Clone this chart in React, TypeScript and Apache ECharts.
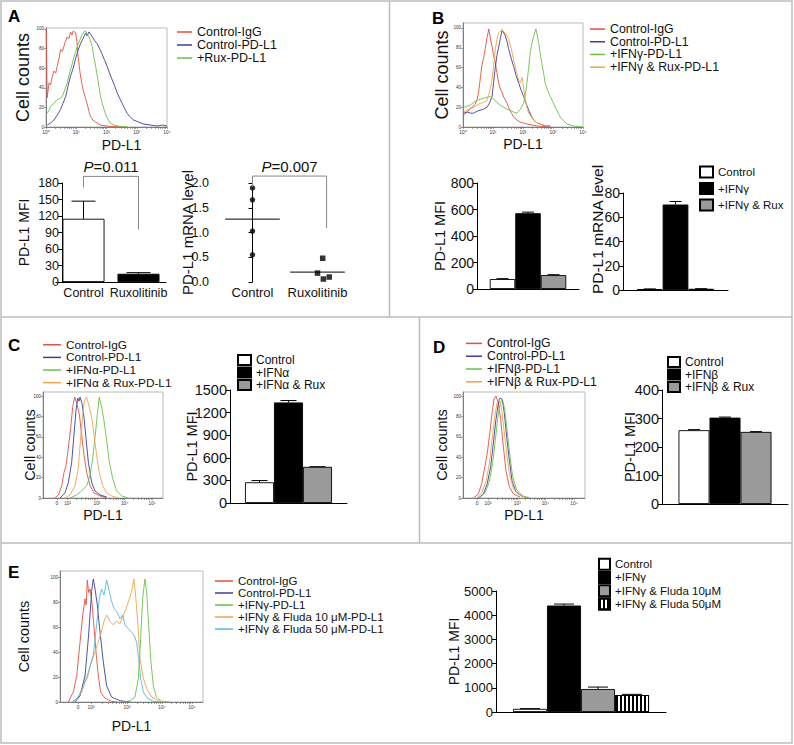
import React, { useEffect, useRef } from "react";
import * as echarts from "echarts";

const FONT = '"Liberation Sans", Arial, Helvetica, sans-serif';
const RED = "#e4503c";
const BLUE = "#3c3f96";
const GREEN = "#6bbf4b";
const ORANGE = "#f2a14e";
const CYAN = "#57b9d9";
const BORDER = "#bdbdbd";

// ---------- Panel A ----------
const A_HIST_IGG = [[0.01,100],[0.04,30],[0.10,45],[0.15,43],[0.21,52],[0.26,57],[0.32,55],[0.37,62],[0.43,70],[0.48,79],[0.54,77],[0.59,82],[0.65,88],[0.70,92],[0.76,90],[0.81,97],[0.86,94],[0.90,98],[0.98,96],[1.02,88],[1.05,75],[1.10,62],[1.14,52],[1.20,42],[1.25,35],[1.30,30],[1.36,24],[1.42,16],[1.47,11],[1.55,7],[1.64,5],[1.80,2],[2.13,0.5],[2.68,0]];
const A_HIST_PDL1 = [[0.04,2],[0.15,4],[0.26,7],[0.37,12],[0.48,18],[0.56,24],[0.65,31],[0.73,42],[0.81,52],[0.90,60],[0.98,70],[1.06,78],[1.14,85],[1.22,90],[1.31,96],[1.36,93],[1.42,97],[1.47,95],[1.53,92],[1.61,88],[1.69,85],[1.77,80],[1.86,74],[1.94,68],[2.02,62],[2.10,55],[2.19,48],[2.27,42],[2.35,35],[2.44,29],[2.52,24],[2.60,19],[2.68,14],[2.79,10],[2.90,7],[3.06,5],[3.23,3],[3.45,2],[3.67,1],[3.85,2],[4.0,1]];
const A_HIST_RUX = [[0.04,14],[0.10,17],[0.15,21],[0.26,24],[0.37,28],[0.45,29],[0.54,31],[0.62,38],[0.70,45],[0.78,55],[0.87,65],[0.95,74],[1.03,82],[1.11,88],[1.19,94],[1.25,97],[1.31,98],[1.36,95],[1.42,92],[1.47,88],[1.53,82],[1.58,72],[1.64,62],[1.70,51],[1.75,41],[1.80,32],[1.86,24],[1.92,18],[1.97,13],[2.05,8],[2.13,4],[2.25,2],[2.35,1],[2.68,0]];

const A_BAR_CATS = ["Control", "Ruxolitinib"];
const A_MFI = [115, 15];
const A_MFI_ERR = [147, 17];
const A_MRNA_CONTROL = [1.9, 1.66, 1.03, 0.55];
const A_MRNA_RUX = [0.48, 0.18, 0.06, 0.1];
const A_MRNA_RUX_X = [1.08, 1.0, 1.09, 1.18];
const A_MRNA_MEAN = [1.27, 0.2];
const A_P_MFI = "=0.011";
const A_P_MRNA = "=0.007";

// ---------- Panel B ----------
const B_HIST_IGG = [[0.02,12],[0.12,15],[0.24,18],[0.33,21],[0.41,23],[0.47,28],[0.52,35],[0.58,50],[0.63,62],[0.69,70],[0.74,79],[0.80,90],[0.86,99],[0.91,90],[0.97,81],[1.02,72],[1.08,64],[1.13,55],[1.19,44],[1.25,38],[1.30,35],[1.36,30],[1.41,27],[1.47,24],[1.52,20],[1.60,15],[1.69,10],[1.80,7],[1.91,5],[2.02,4],[2.13,3],[2.30,2],[2.47,1],[2.91,0]];
const B_HIST_PDL1 = [[0.02,14],[0.15,15],[0.25,14],[0.36,14],[0.47,16],[0.58,17],[0.69,18],[0.80,20],[0.88,24],[0.97,31],[1.02,45],[1.08,61],[1.13,72],[1.19,81],[1.25,90],[1.30,97],[1.36,95],[1.41,92],[1.47,86],[1.52,79],[1.60,70],[1.69,61],[1.77,52],[1.86,44],[1.94,37],[2.02,31],[2.10,24],[2.19,17],[2.28,11],[2.36,7],[2.47,4],[2.58,3],[2.75,1],[2.91,1]];
const B_HIST_IFN = [[0.02,20],[0.13,21],[0.24,22],[0.36,25],[0.47,27],[0.58,28],[0.69,29],[0.80,30],[0.91,31],[1.02,28],[1.13,25],[1.24,22],[1.36,20],[1.47,18],[1.58,17],[1.69,15],[1.80,14],[1.91,18],[2.02,24],[2.08,33],[2.13,44],[2.19,60],[2.24,75],[2.30,85],[2.36,92],[2.43,99],[2.47,93],[2.52,85],[2.57,75],[2.63,64],[2.69,54],[2.74,44],[2.82,37],[2.91,31],[3.00,25],[3.08,20],[3.16,15],[3.24,10],[3.36,6],[3.47,3],[3.58,2],[3.69,1],[4.0,0]];
const B_HIST_RUX = [[0.02,15],[0.13,17],[0.24,19],[0.36,20],[0.47,22],[0.58,24],[0.69,25],[0.80,27],[0.88,35],[0.97,48],[1.02,62],[1.08,79],[1.13,88],[1.19,95],[1.25,97],[1.30,99],[1.36,96],[1.41,95],[1.47,92],[1.52,89],[1.60,80],[1.69,68],[1.77,57],[1.86,47],[1.91,45],[1.97,50],[2.02,40],[2.08,27],[2.13,20],[2.19,14],[2.28,10],[2.36,7],[2.47,4],[2.58,3],[2.75,1],[2.91,1]];

const B_GROUPS = ["Control", "+IFNγ", "+IFNγ & Rux"];
const B_MFI = [75, 572, 105];
const B_MFI_ERR = [78, 580, 108];
const B_MRNA = [0.8, 70.5, 1.0];
const B_MRNA_ERR = [0.9, 73, 1.1];

// ---------- Panel C ----------
const C_HIST_IGG = [[10.0,0],[12.8,3],[15.6,12],[17.5,25],[19.2,32],[21.1,49],[23.1,69],[24.7,89],[26.4,99],[28.1,93],[30.3,82],[32.2,62],[34.2,42],[36.4,25],[39.2,12],[42.5,5],[47.5,2],[53.1,0]];
const C_HIST_PDL1 = [[14.2,0],[18.3,5],[21.1,15],[23.9,35],[25.8,62],[27.5,86],[28.9,98],[30.0,95],[30.8,99],[32.5,93],[34.2,79],[35.8,59],[37.8,35],[40.6,15],[43.3,7],[47.5,3],[53.1,1]];
const C_HIST_IFN = [[22.5,0],[28.1,3],[32.2,7],[36.4,12],[39.2,22],[41.4,39],[43.3,59],[45.3,82],[46.9,99],[48.9,89],[50.8,76],[53.1,56],[55.3,35],[58.1,19],[61.4,7],[65.6,2],[71.1,0]];
const C_HIST_RUX = [[18.3,0],[22.5,3],[26.7,12],[29.4,29],[31.4,59],[33.1,82],[34.7,96],[36.4,99],[38.6,89],[40.6,79],[42.5,62],[44.7,42],[46.9,25],[49.7,12],[53.1,5],[57.2,2],[62.8,0]];

const C_GROUPS = ["Control", "+IFNα", "+IFNα & Rux"];
const C_MFI = [275, 1335, 480];
const C_MFI_ERR = [298, 1360, 482];

// ---------- Panel D ----------
const D_HIST_IGG = [[8.5,0],[12.6,4],[15.3,14],[18.0,31],[19.9,44],[21.6,60],[23.5,80],[25.4,97],[27.0,100],[29.0,93],[30.9,77],[33.1,50],[35.2,27],[38.0,11],[41.3,4],[46.7,1]];
const D_HIST_PDL1 = [[12.6,0],[16.7,4],[19.9,14],[22.7,31],[24.9,54],[27.0,77],[29.0,93],[30.3,98],[32.2,97],[33.9,83],[35.8,60],[38.0,37],[40.2,17],[43.4,6],[48.1,2],[53.6,0]];
const D_HIST_IFN = [[13.4,0],[18.0,5],[21.6,16],[24.3,34],[26.5,57],[28.7,80],[30.6,93],[32.2,97],[34.2,87],[36.1,67],[38.5,41],[40.7,21],[44.0,8],[48.9,2],[54.9,0]];
const D_HIST_RUX = [[11.2,0],[15.3,5],[18.9,16],[21.6,34],[23.8,57],[26.0,80],[27.9,93],[29.5,97],[31.4,90],[33.3,70],[35.8,44],[38.0,24],[41.3,9],[46.2,3],[52.2,0]];

const D_GROUPS = ["Control", "+IFNβ", "+IFNβ & Rux"];
const D_MFI = [259, 303, 253];
const D_MFI_ERR = [261, 305, 254];

// ---------- Panel E ----------
const E_HIST_IGG = [[5.8,0],[9.3,8],[11.7,21],[14.0,48],[15.9,70],[17.5,83],[18.3,78],[19.1,98],[20.0,88],[21.0,91],[22.1,83],[23.3,67],[25.2,40],[26.8,21],[28.4,8],[31.5,3],[36.1,0.5],[40,0]];
const E_HIST_PDL1 = [[10.5,0],[14.0,5],[17.5,21],[19.8,51],[21.0,70],[22.1,89],[23.3,99],[24.5,91],[26.1,78],[28.0,56],[30.3,32],[32.6,13],[36.1,4],[42.0,1],[49.0,0]];
const E_HIST_IFN = [[44.3,0],[49.0,1],[52.4,4],[54.8,19],[56.4,51],[57.8,83],[59.4,99],[60.6,89],[62.0,62],[63.6,32],[65.3,13],[67.4,4],[71.1,0.5],[76.9,0]];
const E_HIST_F10 = [[8.2,0],[11.7,3],[15.2,8],[17.5,16],[19.1,19],[21.4,30],[23.8,38],[26.1,46],[28.4,54],[30.8,65],[32.6,70],[35.0,65],[37.3,62],[39.6,65],[42.0,63],[44.3,70],[46.2,75],[48.5,83],[50.1,89],[51.7,99],[53.1,83],[54.5,62],[55.9,35],[58.3,19],[60.6,11],[64.1,4],[68.8,1],[73.4,0]];
const E_HIST_F50 = [[9.3,0],[12.8,4],[16.3,13],[19.8,24],[23.3,38],[25.6,62],[27.5,83],[29.1,91],[30.8,86],[32.6,98],[34.5,89],[36.1,81],[37.8,75],[39.6,73],[42.0,67],[43.8,70],[45.5,62],[47.8,59],[50.1,56],[51.7,54],[53.6,48],[55.0,35],[56.4,19],[58.3,8],[61.1,3],[65.3,0.5],[69.9,0]];

const E_GROUPS = ["Control", "+IFNγ", "+IFNγ & Fluda 10μM", "+IFNγ & Fluda 50μM"];
const E_MFI = [130, 4400, 950, 700];
const E_MFI_ERR = [140, 4460, 1030, 730];

// ---------- Axis ticks ----------
const LOG_TICKS = [0, 1, 2, 3, 4];
const LOG_LABELS = ["10⁰", "10¹", "10²", "10³", "10⁴"];
const BIEX_LABELS = ["0", "10²", "10³", "10⁴", "10⁵"];
const C_TICKS = [11.5, 20.5, 45, 68, 91];
const D_TICKS = [11.5, 20.5, 44.5, 67.5, 91];
const E_TICKS = [12.6, 21.7, 46.9, 71.3, 92.3];
const COUNT_TICKS = [0, 20, 40, 60, 80, 100];

const MINOR_STEPS = [2, 3, 4, 5, 6, 7, 8, 9];
function logMinors(ticks: number[]) {
  const out: number[] = [];
  for (let i = 0; i < ticks.length - 1; i++) {
    const a = ticks[i], b = ticks[i + 1];
    MINOR_STEPS.forEach((m) => out.push(a + Math.log10(m) * (b - a)));
  }
  return out;
}

const BAR_STYLES: any[] = [
  { color: "#ffffff", borderColor: "#000", borderWidth: 0.9 },
  { color: "#000000", borderColor: "#000", borderWidth: 0.9 },
  { color: "#9a9a9a", borderColor: "#000", borderWidth: 0.9 },
  {
    color: "#ffffff", borderColor: "#000", borderWidth: 0.9,
    decal: { symbol: "rect", symbolSize: 1, dashArrayX: [1.6, 1.6], dashArrayY: [5, 0], color: "#000" },
  },
];

function nearestLabel(v: number, ticks: number[], labels: string[]) {
  for (let i = 0; i < ticks.length; i++) if (Math.abs(ticks[i] - v) < 1e-6) return labels[i];
  return "";
}

function histX(gi: number, min: number, max: number, ticks: number[], labels: string[], minors: number[], nameGap: number, namePad: number[] = [0, 0, 0, 0]) {
  return {
    type: "value", gridIndex: gi, min, max,
    name: "PD-L1", nameLocation: "middle", nameGap, nameMoveOverlap: false,
    nameTextStyle: { fontSize: 14, color: "#111", fontFamily: FONT, padding: namePad },
    axisLine: { show: true, lineStyle: { color: "#666", width: 0.8 } },
    axisTick: { show: true, customValues: ticks.concat(minors), length: 2, lineStyle: { color: "#666", width: 0.6 } },
    axisLabel: { show: true, customValues: ticks, formatter: (v: number) => nearestLabel(v, ticks, labels), fontSize: 4.8, color: "#333", margin: 3, fontFamily: FONT },
    splitLine: { show: false },
  };
}

function histY(gi: number, max: number, nameGap: number, nameSize: number) {
  return {
    type: "value", gridIndex: gi, min: 0, max,
    name: "Cell counts", nameLocation: "middle", nameGap, nameMoveOverlap: false,
    nameTextStyle: { fontSize: nameSize, color: "#111", fontFamily: FONT },
    axisLine: { show: true, lineStyle: { color: "#666", width: 0.8 } },
    axisTick: { show: true, customValues: COUNT_TICKS, length: 2, lineStyle: { color: "#666", width: 0.6 } },
    axisLabel: { show: true, customValues: COUNT_TICKS, fontSize: 4.5, color: "#333", margin: 2, fontFamily: FONT },
    splitLine: { show: false },
  };
}

const plainNumber = (v: number) => String(v);

function barY(gi: number, max: number, interval: number, name: string, nameGap: number, fs: number, nfs: number, offset = 0, fmt: (v: number) => string = plainNumber, namePad: number[] = [0, 0, 0, 0]) {
  return {
    type: "value", gridIndex: gi, min: 0, max, interval, offset,
    name, nameLocation: "middle", nameGap, nameMoveOverlap: false,
    nameTextStyle: { fontSize: nfs, color: "#111", fontFamily: FONT, padding: namePad },
    axisLine: { show: true, lineStyle: { color: "#000", width: 1 } },
    axisTick: { show: true, length: 4, lineStyle: { color: "#000", width: 1 } },
    axisLabel: { show: true, fontSize: fs, color: "#111", margin: 3, fontFamily: FONT, formatter: fmt },
    splitLine: { show: false },
  };
}

function groupX(gi: number) {
  return {
    type: "category", gridIndex: gi, data: [""],
    axisLine: { show: true, lineStyle: { color: "#000", width: 1 } },
    axisTick: { show: false }, axisLabel: { show: false }, splitLine: { show: false },
  };
}

function histSeries(name: string, color: string, data: number[][], gi: number) {
  return {
    type: "line", name, xAxisIndex: gi, yAxisIndex: gi, data,
    showSymbol: false, symbol: "none", color,
    itemStyle: { color }, lineStyle: { color, width: 0.9 }, silent: true, z: 3,
  };
}

function groupBars(names: string[], values: number[], gi: number, bw: number) {
  return names.map((name, i) => ({
    type: "bar", name, xAxisIndex: gi, yAxisIndex: gi, data: [values[i]],
    barWidth: bw, barGap: "0%", itemStyle: BAR_STYLES[i], silent: true,
  }));
}

function groupErr(values: number[], uppers: number[], gi: number, bw: number, cap: number) {
  const n = values.length;
  return {
    type: "custom", name: "err" + gi, xAxisIndex: gi, yAxisIndex: gi, silent: true, z: 5, clip: false,
    data: values.map((v, i) => [0, v, uppers[i], i]),
    renderItem: (params: any, api: any) => {
      const slot = api.value(3);
      const c = api.coord([0, api.value(1)]);
      const u = api.coord([0, api.value(2)]);
      const x = c[0] + (slot - (n - 1) / 2) * bw;
      return {
        type: "group",
        children: [
          { type: "line", shape: { x1: x, y1: c[1], x2: x, y2: u[1] }, style: { stroke: "#000", lineWidth: 1 } },
          { type: "line", shape: { x1: x - cap, y1: u[1], x2: x + cap, y2: u[1] }, style: { stroke: "#000", lineWidth: 1 } },
        ],
      };
    },
  };
}

function bracket(gi: number, x0: number, x1: number, yTop: number, yL: number, yR: number, ptext: string) {
  return {
    type: "custom", name: "bracket" + gi, xAxisIndex: gi, yAxisIndex: gi, silent: true, clip: false, z: 6,
    encode: { x: [0, 1], y: [2, 3, 4] },
    data: [[x0, x1, yTop, yL, yR]],
    renderItem: (params: any, api: any) => {
      const a = api.value(0), b = api.value(1);
      const pL = api.coord([a, api.value(3)]);
      const t0 = api.coord([a, api.value(2)]);
      const t1 = api.coord([b, api.value(2)]);
      const pR = api.coord([b, api.value(4)]);
      return {
        type: "group",
        children: [
          { type: "polyline", shape: { points: [pL, t0, t1, pR] }, style: { stroke: "#888", lineWidth: 1, fill: null } },
          {
            type: "text", x: (t0[0] + t1[0]) / 2, y: t0[1] - 2,
            style: {
              text: "{i|P}{n|" + ptext + "}", align: "center", verticalAlign: "bottom",
              rich: {
                i: { fontStyle: "italic", fontSize: 15, fontFamily: FONT, fill: "#111" },
                n: { fontSize: 15, fontFamily: FONT, fill: "#111" },
              },
            },
          },
        ],
      };
    },
  };
}

function histLegend(names: string[], left: number, top: number, iw: number, lh: number, fs: number) {
  return {
    orient: "vertical", left, top, padding: 0, itemGap: 0, itemWidth: iw, itemHeight: 1.5,
    icon: "rect", selectedMode: false, data: names,
    textStyle: { fontSize: fs, lineHeight: lh, color: "#111", fontFamily: FONT },
  };
}

function barLegend(names: string[], left: number, top: number, iw: number, ih: number, lh: number, fs: number) {
  return {
    orient: "vertical", left, top, padding: 0, itemGap: 0, itemWidth: iw, itemHeight: ih,
    icon: "rect", selectedMode: false, data: names,
    textStyle: { fontSize: fs, lineHeight: lh, color: "#111", fontFamily: FONT },
  };
}

function letter(t: string, x: number, y: number) {
  return {
    type: "text", x, y, silent: true,
    style: { text: t, fontSize: 17, fontWeight: "bold", fontFamily: FONT, fill: "#000", verticalAlign: "middle", align: "left" },
  };
}

function hline(x1: number, x2: number, y: number) {
  return { type: "line", silent: true, shape: { x1, y1: y, x2, y2: y }, style: { stroke: BORDER, lineWidth: 1.5 } };
}
function vline(x: number, y1: number, y2: number) {
  return { type: "line", silent: true, shape: { x1: x, y1, x2: x, y2 }, style: { stroke: BORDER, lineWidth: 1.5 } };
}

function buildOption() {
  const histGrid = (left: number, top: number, width: number, height: number) => ({
    left, top, width, height, show: true, borderColor: "#aaa", borderWidth: 0.8, containLabel: false, outerBoundsMode: "none",
  });
  const plainGrid = (left: number, top: number, width: number, height: number) => ({
    left, top, width, height, show: false, containLabel: false, outerBoundsMode: "none",
  });

  const grid = [
    histGrid(46, 28, 121, 99), // 0 A hist
    plainGrid(56, 183, 110, 99), // 1 A bar
    plainGrid(220, 183, 130, 99), // 2 A scatter
    histGrid(463, 23, 120, 104), // 3 B hist
    plainGrid(477, 183, 102, 106), // 4 B MFI
    plainGrid(623, 193, 105, 97), // 5 B mRNA
    histGrid(43, 392, 120, 106), // 6 C hist
    plainGrid(230, 390, 117, 113), // 7 C bar
    histGrid(463, 392, 122, 106), // 8 D hist
    plainGrid(662, 390, 126, 114), // 9 D bar
    histGrid(60, 571, 143, 131), // 10 E hist
    plainGrid(496, 591, 170, 121), // 11 E bar
  ];

  const xAxis: any[] = [
    histX(0, 0, 4, LOG_TICKS, LOG_LABELS, logMinors(LOG_TICKS), 11, [0, 0, 0, 30]),
    {
      type: "category", gridIndex: 1, data: A_BAR_CATS,
      axisLine: { show: true, lineStyle: { color: "#000", width: 1 } },
      axisTick: { show: false },
      axisLabel: { interval: 0, hideOverlap: false, fontSize: 12.5, color: "#111", margin: 4, fontFamily: FONT },
    },
    {
      type: "value", gridIndex: 2, min: -0.5, max: 1.5,
      axisLine: { show: false }, axisTick: { show: false }, splitLine: { show: false },
      axisLabel: { customValues: [0, 1], formatter: (v: number) => A_BAR_CATS[Math.round(v)] ?? "", fontSize: 13, color: "#111", margin: 4, fontFamily: FONT },
    },
    histX(3, 0, 4, LOG_TICKS, LOG_LABELS, logMinors(LOG_TICKS), 10),
    groupX(4),
    groupX(5),
    histX(6, 0, 100, C_TICKS, BIEX_LABELS, logMinors(C_TICKS.slice(1)), 10),
    groupX(7),
    histX(8, 0, 100, D_TICKS, BIEX_LABELS, logMinors(D_TICKS.slice(1)), 10),
    groupX(9),
    histX(10, 0, 100, E_TICKS, BIEX_LABELS, logMinors(E_TICKS.slice(1)), 17),
    groupX(11),
  ];

  const yAxis: any[] = [
    histY(0, 101, 14, 18),
    barY(1, 180, 30, "PD-L1 MFI", 31, 12.5, 14, -6),
    barY(2, 2, 0.5, "PD-L1 mRNA level", 17, 12.5, 15, 8, (v: number) => v.toFixed(1)),
    histY(3, 105, 12, 18),
    barY(4, 800, 200, "PD-L1 MFI", 30, 14, 14.5),
    barY(5, 80, 20, "PD-L1 mRNA level", 17.5, 14, 15.5, 0, plainNumber, [0, 0, 0, 24]),
    histY(6, 104, 5.75, 14.5),
    barY(7, 1500, 300, "PD-L1 MFI", 31, 14.5, 14.5),
    histY(8, 104, 13.25, 14.5),
    barY(9, 400, 100, "PD-L1 MFI", 25, 14.5, 14.5),
    histY(10, 105.4, 28.75, 14.5),
    barY(11, 5000, 1000, "PD-L1 MFI", 35, 13, 14),
  ];

  const series: any[] = [
    // A
    histSeries("Control-IgG", RED, A_HIST_IGG, 0),
    histSeries("Control-PD-L1", BLUE, A_HIST_PDL1, 0),
    histSeries("+Rux-PD-L1", GREEN, A_HIST_RUX, 0),
    {
      type: "bar", name: "A PD-L1 MFI", xAxisIndex: 1, yAxisIndex: 1, barWidth: 42, silent: true,
      data: A_MFI.map((v, i) => ({ value: v, itemStyle: BAR_STYLES[i] })),
    },
    {
      type: "custom", name: "errA", xAxisIndex: 1, yAxisIndex: 1, silent: true, z: 5, clip: false,
      data: A_MFI.map((v, i) => [i, v, A_MFI_ERR[i]]),
      renderItem: (params: any, api: any) => {
        const c = api.coord([api.value(0), api.value(1)]);
        const u = api.coord([api.value(0), api.value(2)]);
        return {
          type: "group",
          children: [
            { type: "line", shape: { x1: c[0], y1: c[1], x2: c[0], y2: u[1] }, style: { stroke: "#000", lineWidth: 1 } },
            { type: "line", shape: { x1: c[0] - 12, y1: u[1], x2: c[0] + 12, y2: u[1] }, style: { stroke: "#000", lineWidth: 1 } },
          ],
        };
      },
    },
    bracket(1, 0, 1, 192, 172, 96, A_P_MFI),
    {
      type: "scatter", name: "Control mRNA", xAxisIndex: 2, yAxisIndex: 2, symbol: "circle", symbolSize: 5.5,
      itemStyle: { color: "#000" }, silent: true, data: A_MRNA_CONTROL.map((v) => [0, v]),
    },
    {
      type: "scatter", name: "Ruxolitinib mRNA", xAxisIndex: 2, yAxisIndex: 2, symbol: "rect", symbolSize: 5.5,
      itemStyle: { color: "#000" }, silent: true, data: A_MRNA_RUX.map((v, i) => [A_MRNA_RUX_X[i], v]),
    },
    {
      type: "custom", name: "meanA", xAxisIndex: 2, yAxisIndex: 2, silent: true, clip: false,
      data: A_MRNA_MEAN.map((v, i) => [i, v]),
      renderItem: (params: any, api: any) => {
        const c = api.coord([api.value(0), api.value(1)]);
        const half = api.size([0.42, 0])[0];
        return { type: "line", shape: { x1: c[0] - half, y1: c[1], x2: c[0] + half, y2: c[1] }, style: { stroke: "#000", lineWidth: 1 } };
      },
    },
    bracket(2, 0, 1.14, 2.14, 1.92, 1.09, A_P_MRNA),
    // B
    histSeries("Control-IgG", RED, B_HIST_IGG, 3),
    histSeries("Control-PD-L1", BLUE, B_HIST_PDL1, 3),
    histSeries("+IFNγ-PD-L1", GREEN, B_HIST_IFN, 3),
    histSeries("+IFNγ & Rux-PD-L1", ORANGE, B_HIST_RUX, 3),
    ...groupBars(B_GROUPS, B_MFI, 4, 25.5),
    groupErr(B_MFI, B_MFI_ERR, 4, 25.5, 6),
    ...groupBars(B_GROUPS, B_MRNA, 5, 25.7),
    groupErr(B_MRNA, B_MRNA_ERR, 5, 25.7, 6),
    // C
    histSeries("Control-IgG", RED, C_HIST_IGG, 6),
    histSeries("Control-PD-L1", BLUE, C_HIST_PDL1, 6),
    histSeries("+IFNα-PD-L1", GREEN, C_HIST_IFN, 6),
    histSeries("+IFNα & Rux-PD-L1", ORANGE, C_HIST_RUX, 6),
    ...groupBars(C_GROUPS, C_MFI, 7, 29),
    groupErr(C_MFI, C_MFI_ERR, 7, 29, 8),
    // D
    histSeries("Control-IgG", RED, D_HIST_IGG, 8),
    histSeries("Control-PD-L1", BLUE, D_HIST_PDL1, 8),
    histSeries("+IFNβ-PD-L1", GREEN, D_HIST_IFN, 8),
    histSeries("+IFNβ & Rux-PD-L1", ORANGE, D_HIST_RUX, 8),
    ...groupBars(D_GROUPS, D_MFI, 9, 31),
    groupErr(D_MFI, D_MFI_ERR, 9, 31, 6),
    // E
    histSeries("Control-IgG", RED, E_HIST_IGG, 10),
    histSeries("Control-PD-L1", BLUE, E_HIST_PDL1, 10),
    histSeries("+IFNγ-PD-L1", GREEN, E_HIST_IFN, 10),
    histSeries("+IFNγ & Fluda 10 μM-PD-L1", ORANGE, E_HIST_F10, 10),
    histSeries("+IFNγ & Fluda 50 μM-PD-L1", CYAN, E_HIST_F50, 10),
    ...groupBars(E_GROUPS, E_MFI, 11, 34),
    groupErr(E_MFI, E_MFI_ERR, 11, 34, 10),
  ];

  const legend: any[] = [
    histLegend(["Control-IgG", "Control-PD-L1", "+Rux-PD-L1"], 177, 25.5, 15, 13, 12.5),
    histLegend(["Control-IgG", "Control-PD-L1", "+IFNγ-PD-L1", "+IFNγ & Rux-PD-L1"], 590, 22.7, 15, 12.7, 12.3),
    barLegend(B_GROUPS, 699, 163.75, 13, 11, 16.5, 11.5),
    histLegend(["Control-IgG", "Control-PD-L1", "+IFNα-PD-L1", "+IFNα & Rux-PD-L1"], 43, 338.5, 18, 12.6, 11.8),
    barLegend(C_GROUPS, 237, 353.75, 13, 10, 12.5, 12),
    histLegend(["Control-IgG", "Control-PD-L1", "+IFNβ-PD-L1", "+IFNβ & Rux-PD-L1"], 466, 337, 16, 12.8, 12.3),
    barLegend(D_GROUPS, 667, 355.75, 12, 10, 12.5, 12),
    histLegend(["Control-IgG", "Control-PD-L1", "+IFNγ-PD-L1", "+IFNγ & Fluda 10 μM-PD-L1", "+IFNγ & Fluda 50 μM-PD-L1"], 215, 575, 18, 10.25, 11.5),
    barLegend(E_GROUPS, 598, 557.5, 11, 11, 13.3, 11.5),
  ];

  const graphic: any[] = [
    { type: "rect", silent: true, shape: { x: 1, y: 1, width: 791, height: 742 }, style: { fill: "none", stroke: BORDER, lineWidth: 1.5 } },
    vline(389.5, 1, 317),
    hline(1, 792, 317),
    vline(419.5, 317, 543),
    hline(1, 792, 543),
    letter("A", 8, 16.5),
    letter("B", 432, 18),
    letter("C", 8, 345.5),
    letter("D", 433, 347),
    letter("E", 8, 572),
  ];

  return {
    animation: false,
    backgroundColor: "#ffffff",
    textStyle: { fontFamily: FONT },
    grid, xAxis, yAxis, series, legend, graphic,
  };
}

export default function App() {
  const ref = useRef<HTMLDivElement>(null);
  useEffect(() => {
    if (!ref.current) return;
    const chart = echarts.init(ref.current, undefined, { renderer: "svg", width: 794, height: 745 });
    chart.setOption(buildOption() as any);
    return () => chart.dispose();
  }, []);
  return (
    <div
      ref={ref}
      style={{ position: "fixed", left: 0, top: 0, width: 794, height: 745, background: "#fff" }}
    />
  );
}
